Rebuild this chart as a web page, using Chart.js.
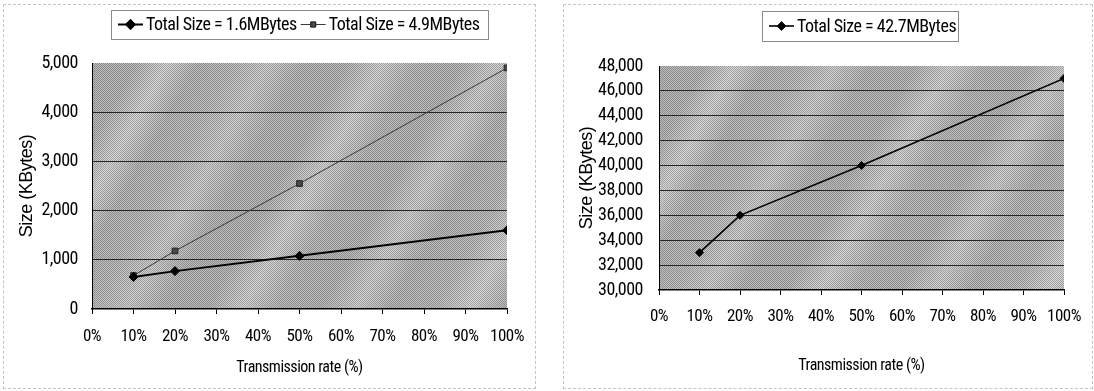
<!DOCTYPE html>
<html>
<head>
<meta charset="utf-8">
<script src="https://cdn.jsdelivr.net/npm/chart.js@4.4.1/dist/chart.umd.min.js"></script>
<style>
  html, body { margin: 0; padding: 0; background: #fff; }
  #wrap { position: relative; width: 1094px; height: 391px; overflow: hidden; }
  .pane { position: absolute; top: 0; height: 391px; }
  .frame { position: absolute; border: 1px dashed #c4c4c4; pointer-events: none; }
</style>
</head>
<body>
<div id="wrap">
  <div class="pane" style="left:0;width:540px"><canvas id="small" width="540" height="391"></canvas></div>
  <div class="pane" style="left:540px;width:554px"><canvas id="large" width="554" height="391"></canvas></div>
  <div class="frame" style="left:3px;top:4px;width:531px;height:383px"></div>
  <div class="frame" style="left:563px;top:4px;width:528px;height:383px"></div>
</div>
<script>
// Transmission rate (%) at which each size was measured
const rates = [10, 20, 50, 100];

// Received size in KBytes for each total file size
const size16MB = [650, 770, 1080, 1600];
const size49MB = [680, 1180, 2550, 4900];
const size427MB = [33000, 36000, 40000, 47000];

const seriesNames = ['Total Size = 1.6MBytes', 'Total Size = 4.9MBytes', 'Total Size = 42.7MBytes'];

const xTickValues = [0, 10, 20, 30, 40, 50, 60, 70, 80, 90, 100];
const smallYTicks = [0, 1000, 2000, 3000, 4000, 5000];
const largeYTicks = [30000, 32000, 34000, 36000, 38000, 40000, 42000, 44000, 46000, 48000];

const narrow = '"Roboto Condensed", Roboto, "Liberation Sans", sans-serif';
const wide = '"Liberation Sans", Arial, sans-serif';
Chart.defaults.font.family = narrow;
Chart.defaults.font.size = 18;
Chart.defaults.color = '#000';

function toPoints(ys) { return rates.map((r, i) => ({ x: r, y: ys[i] })); }

// Grey textured fill behind the plot, with slanted light bands
const plotFill = {
  id: 'plotFill',
  beforeDraw(chart) {
    const { ctx, chartArea: a } = chart;
    ctx.letterSpacing = '-0.5px';
    const w = a.right - a.left, h = a.bottom - a.top;
    ctx.save();
    ctx.beginPath();
    ctx.rect(a.left, a.top, w, h);
    ctx.clip();
    ctx.fillStyle = '#b1b1b1';
    ctx.fillRect(a.left, a.top, w, h);
    const dx = 0.866, dy = 0.5, len = 760;
    const g = ctx.createLinearGradient(a.left - 60, a.top, a.left - 60 + dx * len, a.top + dy * len);
    const stops = [
      [0.00, 0.0], [0.03, 0.5], [0.07, 0.0], [0.12, 0.0], [0.155, 0.6], [0.19, 0.0],
      [0.23, 0.1], [0.27, 0.45], [0.31, 0.0], [0.36, 0.0], [0.40, 0.55], [0.44, 0.05],
      [0.49, 0.0], [0.53, 0.5], [0.57, 0.0], [0.62, 0.1], [0.66, 0.6], [0.70, 0.0],
      [0.75, 0.0], [0.79, 0.45], [0.83, 0.0], [0.88, 0.05], [0.92, 0.55], [0.96, 0.0], [1.0, 0.0]
    ];
    stops.forEach(([s, k]) => g.addColorStop(s, `rgba(232,232,232,${k})`));
    ctx.fillStyle = g;
    ctx.fillRect(a.left, a.top, w, h);
    // fine halftone grain
    const p = document.createElement('canvas');
    p.width = 2; p.height = 2;
    const pc = p.getContext('2d');
    pc.fillStyle = 'rgba(0,0,0,0.22)';
    pc.fillRect(0, 0, 1, 1); pc.fillRect(1, 1, 1, 1);
    pc.fillStyle = 'rgba(255,255,255,0.16)';
    pc.fillRect(1, 0, 1, 1); pc.fillRect(0, 1, 1, 1);
    ctx.fillStyle = ctx.createPattern(p, 'repeat');
    ctx.fillRect(a.left, a.top, w, h);
    ctx.restore();
  }
};

// Boxed legend: short line with the series marker, then the name
const boxLegend = {
  id: 'boxLegend',
  afterDraw(chart, args, opts) {
    const { ctx } = chart;
    const b = opts.box;
    ctx.save();
    ctx.letterSpacing = '-0.5px';
    ctx.strokeStyle = '#8a8a8a';
    ctx.lineWidth = 1;
    ctx.strokeRect(b.x + 0.5, b.y + 0.5, b.w, b.h);
    ctx.font = '18px ' + narrow;
    ctx.textBaseline = 'middle';
    let x = b.x + 7;
    const cy = b.y + b.h / 2;
    chart.data.datasets.forEach(ds => {
      ctx.strokeStyle = ds.borderColor;
      ctx.lineWidth = ds.borderWidth;
      ctx.beginPath(); ctx.moveTo(x, cy); ctx.lineTo(x + 25, cy); ctx.stroke();
      Chart.helpers.drawPoint(ctx, {
        pointStyle: ds.pointStyle, radius: ds.pointRadius - 0.5, borderWidth: 1, rotation: 0
      }, x + 12.5, cy);
      ctx.fillStyle = ds.pointBackgroundColor;
      ctx.strokeStyle = ds.pointBorderColor;
      ctx.fill(); ctx.stroke();
      ctx.fillStyle = '#000';
      ctx.fillText(ds.label, x + 28, cy + 1);
      x += 28 + ctx.measureText(ds.label).width + 4;
    });
    ctx.restore();
  }
};

function build(canvas, datasets, yTicks, geo) {
  return new Chart(canvas, {
    type: 'line',
    data: { datasets },
    plugins: [plotFill, boxLegend],
    options: {
      responsive: false,
      animation: false,
      layout: { padding: { top: geo.top, right: geo.right, bottom: 0, left: 0 } },
      plugins: {
        legend: { display: false },
        tooltip: { enabled: false },
        boxLegend: { box: geo.legend }
      },
      scales: {
        x: {
          type: 'linear',
          min: 0, max: 100,
          afterBuildTicks: s => { s.ticks = xTickValues.map(v => ({ value: v })); },
          afterFit: s => { s.height = geo.xHeight; },
          ticks: { callback: v => v + '%', padding: geo.xPad, maxRotation: 0, autoSkip: false, font: { size: 17 } },
          grid: { drawOnChartArea: false, drawTicks: true, tickLength: 5, tickColor: '#000' },
          border: { color: '#000', width: 1.5 },
          title: {
            display: true, text: 'Transmission rate (%)',
            font: { size: 16 }, padding: { top: 0, bottom: geo.xTitlePad }
          }
        },
        y: {
          type: 'linear',
          min: yTicks[0], max: yTicks[yTicks.length - 1],
          afterBuildTicks: s => { s.ticks = yTicks.map(v => ({ value: v })); },
          afterFit: s => { s.width = geo.yWidth; },
          ticks: {
            callback: v => v.toLocaleString('en-US'),
            padding: geo.yPad, font: { size: 18 }
          },
          grid: {
            drawTicks: false, lineWidth: 1,
            color: c => (c.index === yTicks.length - 1 || c.index === 0) ? 'rgba(0,0,0,0)' : '#262626'
          },
          border: { color: '#000', width: 1 },
          title: {
            display: true, text: 'Size (KBytes)',
            font: { size: 18, family: wide }, padding: { top: geo.yTitlePad, bottom: 0 }
          }
        }
      }
    }
  });
}

build(document.getElementById('small'), [
  {
    label: seriesNames[0], data: toPoints(size16MB),
    borderColor: '#000', borderWidth: 2,
    pointStyle: 'rectRot', pointRadius: 4.5,
    pointBackgroundColor: '#000', pointBorderColor: '#000', pointBorderWidth: 1
  },
  {
    label: seriesNames[1], data: toPoints(size49MB),
    borderColor: '#3a3a3a', borderWidth: 1,
    pointStyle: 'rect', pointRadius: 4,
    pointBackgroundColor: '#4a4a4a', pointBorderColor: '#222', pointBorderWidth: 1
  }
], smallYTicks, {
  top: 63, right: 33, yWidth: 92, xHeight: 82,
  xPad: 13, yPad: 14, xTitlePad: 13, yTitlePad: 16,
  legend: { x: 111, y: 10, w: 377, h: 29 }
});

build(document.getElementById('large'), [
  {
    label: seriesNames[2], data: toPoints(size427MB),
    borderColor: '#000', borderWidth: 1.6,
    pointStyle: 'rectRot', pointRadius: 4,
    pointBackgroundColor: '#000', pointBorderColor: '#000', pointBorderWidth: 1
  }
], largeYTicks, {
  top: 66, right: 30, yWidth: 119, xHeight: 101,
  xPad: 12, yPad: 16, xTitlePad: 15, yTitlePad: 36,
  legend: { x: 222, y: 11, w: 196, h: 30 }
});
</script>
</body>
</html>
